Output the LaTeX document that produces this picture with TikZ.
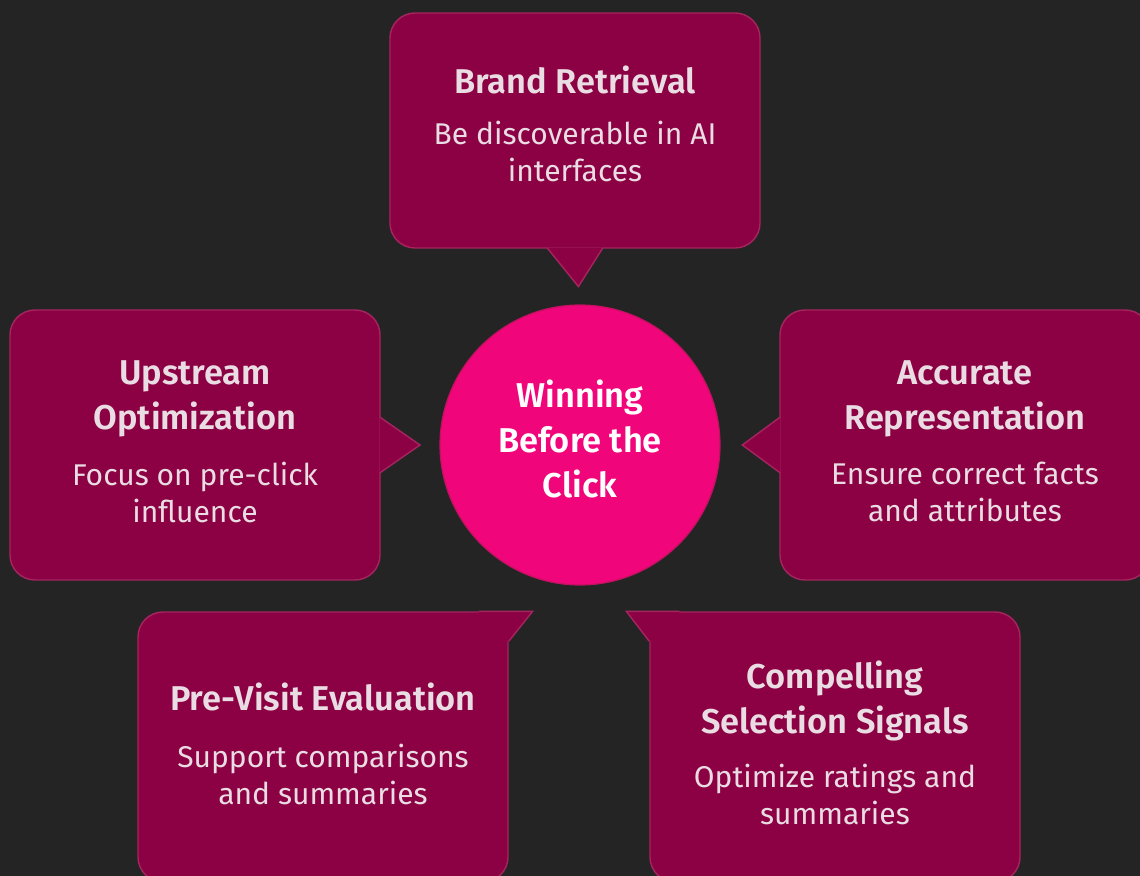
\documentclass[tikz,border=0pt]{standalone}
\usepackage{fontspec}
\setmainfont{Fira Sans}[BoldFont={Fira Sans SemiBold}]
\usetikzlibrary{
  calc,         % Pointer tips $...$
  positioning,
}
\definecolor{bgdark}{HTML}{252424}
\definecolor{boxfill}{HTML}{8C0044}
\definecolor{boxline}{HTML}{A5255F}
\definecolor{hubfill}{HTML}{F0057A}
\definecolor{hubline}{HTML}{C0125F}
\definecolor{boxtext}{HTML}{E9DCE2}
\def\px{0.5pt}
\tikzset{
  semithick,
  my box/.style={
    fill=boxfill,
    draw=boxline,
    line width=0.7pt,
    rounded corners=12.5pt,
    minimum width=370*\px,
    minimum height=270*\px,
    inner sep=0pt
  },
  my box low/.style={
    my box,
    minimum height=235*\px
  },
  my pointer/.style={
    fill=boxfill,
    draw=boxline,
    line width=0.7pt,
    line join=miter
  },
  my hub/.style={
    circle,
    fill=hubfill,
    draw=hubline,
    line width=0.6pt,
    minimum size=280*\px,
    inner sep=0pt
  },
  my title/.style={
    font=\fontsize{17.2}{22.5}\selectfont\bfseries,
    text=boxtext,
    align=center,
    inner sep=0pt
  },
  my text/.style={
    font=\fontsize{15}{18.5}\selectfont,
    text=boxtext,
    align=center,
    inner sep=0pt
  }
}

\begin{document}
\begin{tikzpicture}[x=\px,y=-\px]
\fill[bgdark] (0,0) rectangle (1140,876);
\useasboundingbox (0,0) rectangle (1140,876);

\node[my hub] (hub) at (580,445) {};
\node[my title,text=white] (hubtext) at ($(hub.center)+(0,-6)$) {Winning\\Before the\\Click};

% boxes
\node[my box low] (retrieval)  at (575,130.5) {};
\node[my box]     (upstream)   at (195,445)   {};
\node[my box]     (accurate)   at (965,445)   {};
\node[my box]     (evaluation) at (323,747)   {};
\node[my box]     (signals)    at (835,747)   {};

% pointers towards the hub
\filldraw[my pointer]
  ($(retrieval.south)+(-28,-1)$) -- ($(retrieval.south)!0.68!(hub.north)$) -- ($(retrieval.south)+(28,-1)$);
\filldraw[my pointer]
  ($(upstream.east)+(-1,-28)$) -- ($(upstream.east)!0.67!(hub.west)$) -- ($(upstream.east)+(-1,28)$);
\filldraw[my pointer]
  ($(accurate.west)+(1,-28)$) -- ($(accurate.west)!0.63!(hub.east)$) -- ($(accurate.west)+(1,28)$);
\fill[boxfill]
  ($(evaluation.north east)+(-30,0)$) -- ++(54,0) -- ($(evaluation.north east)+(1,30)$) -- ++(-31,0) -- cycle;
\draw[my pointer,fill=none]
  ($(evaluation.north east)+(-30,0)$) -- ++(54,0) -- ($(evaluation.north east)+(0,30)$);
\fill[boxfill]
  ($(signals.north west)+(30,0)$) -- ++(-53,0) -- ($(signals.north west)+(-1,30)$) -- ++(31,0) -- cycle;
\draw[my pointer,fill=none]
  ($(signals.north west)+(30,0)$) -- ++(-53,0) -- ($(signals.north west)+(0,30)$);

% texts
\node[my title] (retrievalT) at ($(retrieval.center)+(0,-51)$)   {Brand Retrieval};
\node[my text]  (retrievalB) at ($(retrieval.center)+(0,21)$)    {Be discoverable in AI\\interfaces};
\node[my title] (upstreamT)  at ($(upstream.center)+(0,-46)$)    {Upstream\\Optimization};
\node[my text]  (upstreamB)  at ($(upstream.center)+(0,47)$)     {Focus on pre-click\\influence};
\node[my title] (accurateT)  at ($(accurate.center)+(0,-46)$)    {Accurate\\Representation};
\node[my text]  (accurateB)  at ($(accurate.center)+(0,47)$)     {Ensure correct facts\\and attributes};
\node[my title] (evaluationT) at ($(evaluation.center)+(0,-50)$) {Pre-Visit Evaluation};
\node[my text]  (evaluationB) at ($(evaluation.center)+(0,27)$)  {Support comparisons\\and summaries};
\node[my title] (signalsT)   at ($(signals.center)+(0,-46)$)     {Compelling\\Selection Signals};
\node[my text]  (signalsB)   at ($(signals.center)+(0,47)$)      {Optimize ratings and\\summaries};
\end{tikzpicture}
\end{document}
